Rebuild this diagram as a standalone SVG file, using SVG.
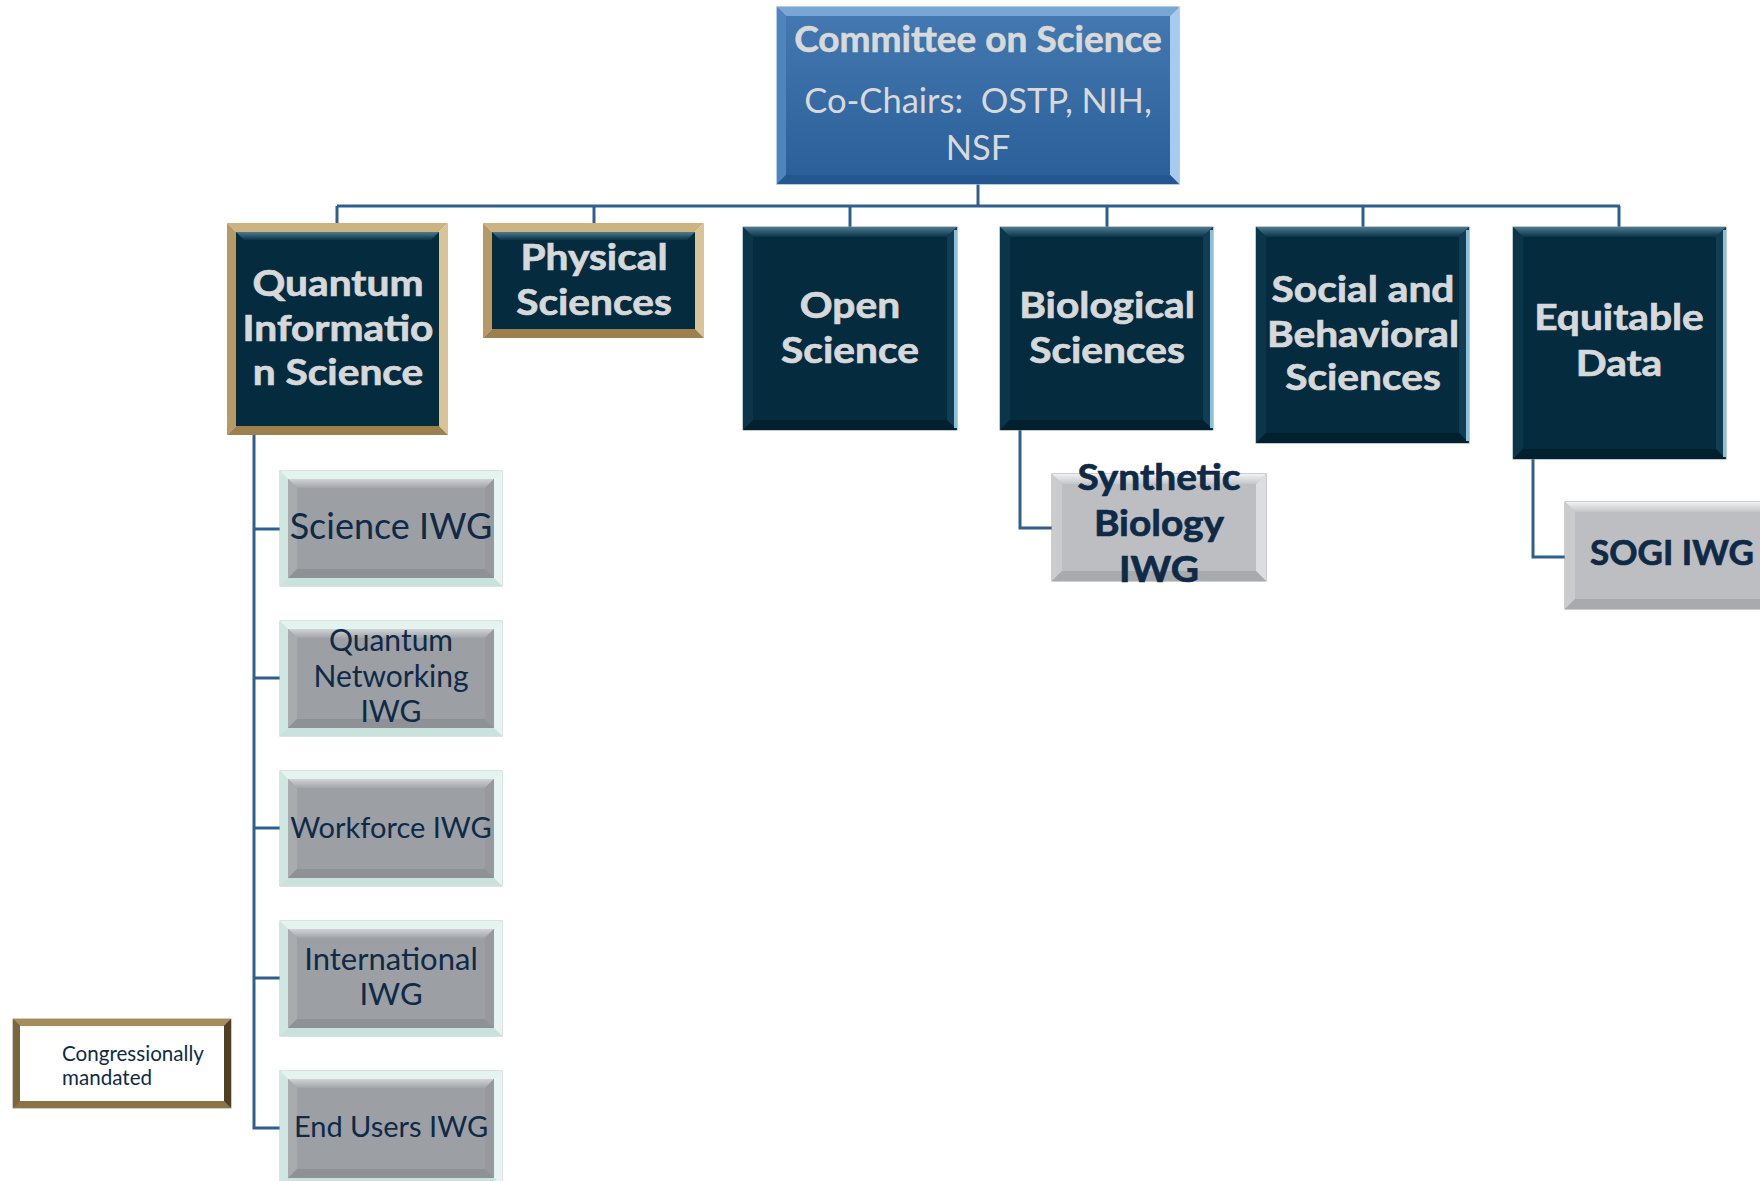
<svg xmlns="http://www.w3.org/2000/svg" xmlns:xlink="http://www.w3.org/1999/xlink" width="1760" height="1181" viewBox="0 0 1760 1181">
<defs>
<style>
.t-top{font-family:"Lato","Liberation Sans",sans-serif;fill:#d9d9d9;text-anchor:middle}
.t-l2{font-family:"Lato","Liberation Sans",sans-serif;font-weight:bold;font-size:36px;fill:#d7d8da;stroke:#d7d8da;stroke-width:0.7;text-anchor:middle}
.t-iwg{font-family:"Lato","Liberation Sans",sans-serif;fill:#0e2a47;text-anchor:middle}
.t-sub{font-family:"Lato","Liberation Sans",sans-serif;font-weight:bold;fill:#0e2a47;stroke:#0e2a47;stroke-width:0.7;text-anchor:middle}
.t-leg{font-family:"Lato","Liberation Sans",sans-serif;font-size:20.6px;fill:#0e2a47}
.conn{fill:none;stroke:#2f5f8e;stroke-width:3}
.dk{fill:#042b3e}
.dk-t{fill:url(#dkTop)}
.dk-l{fill:#0b3549}
.dk-r{fill:#123e53}
.dk-b{fill:#03202e}
.dk-e{fill:none;stroke:#8fc0db;stroke-width:3}
.gd-t{fill:#ccb382}
.gd-l{fill:#b69963}
.gd-r{fill:#d8c497}
.gd-b{fill:#9c804e}
</style>
<linearGradient id="topGrad" x1="0" y1="0" x2="0" y2="1">
<stop offset="0" stop-color="#4479b1"/>
<stop offset="1" stop-color="#2a5e98"/>
</linearGradient>
<linearGradient id="dkTop" x1="0" y1="0" x2="0" y2="1">
<stop offset="0" stop-color="#4d7a8e"/>
<stop offset="1" stop-color="#0a3448"/>
</linearGradient>
<linearGradient id="grTop" x1="0" y1="0" x2="0" y2="1">
<stop offset="0" stop-color="#d0d2d4"/>
<stop offset="1" stop-color="#a3a6a9"/>
</linearGradient>
<linearGradient id="lgTop" x1="0" y1="0" x2="0" y2="1">
<stop offset="0" stop-color="#f0f1f2"/>
<stop offset="1" stop-color="#c4c6c8"/>
</linearGradient>
<g id="iwgBox">
<rect x="0" y="0" width="222" height="115" fill="#d4ece5" stroke="#b7c8c3" stroke-width="1"/>
<polygon points="0,0 222,0 214,8 8,8" fill="#e3f3ee"/>
<polygon points="0,0 8,8 8,107 0,115" fill="#cfe7e0"/>
<polygon points="222,0 222,115 214,107 214,8" fill="#e6f5f1"/>
<polygon points="0,115 8,107 214,107 222,115" fill="#c9e2db"/>
<rect x="8" y="8" width="206" height="99" fill="#9c9fa3"/>
<polygon points="8,8 214,8 205,17 17,17" fill="url(#grTop)"/>
<polygon points="8,8 17,17 17,98 8,107" fill="#a9acaf"/>
<polygon points="214,8 214,107 205,98 205,17" fill="#96999d"/>
<polygon points="8,107 17,98 205,98 214,107" fill="#8e9195"/>
</g>
<g id="subBox">
<rect x="0" y="0" width="214" height="107" fill="#bcbec1" stroke="#9c9ea1" stroke-width="1"/>
<polygon points="0,0 214,0 204,10 10,10" fill="url(#lgTop)"/>
<polygon points="0,0 10,10 10,97 0,107" fill="#c9cbcd"/>
<polygon points="214,0 214,107 204,97 204,10" fill="#dcdde0"/>
<polygon points="0,107 10,97 204,97 214,107" fill="#a8aaad"/>
</g>
</defs>

<rect x="0" y="0" width="1760" height="1181" fill="#ffffff"/>

<g id="connectors">
<path class="conn" d="M978 184 V206"/>
<path class="conn" d="M337 206 H1620"/>
<path class="conn" d="M337 206 V223"/>
<path class="conn" d="M594 206 V223"/>
<path class="conn" d="M850 206 V227"/>
<path class="conn" d="M1107 206 V227"/>
<path class="conn" d="M1363 206 V227"/>
<path class="conn" d="M1619 206 V227"/>
<path class="conn" d="M254 435 V1128 H280"/>
<path class="conn" d="M254 529 H280"/>
<path class="conn" d="M254 678 H280"/>
<path class="conn" d="M254 828 H280"/>
<path class="conn" d="M254 978 H280"/>
<path class="conn" d="M1020 430 V528 H1052"/>
<path class="conn" d="M1533 459 V557 H1565"/>
</g>

<g id="committee">
<rect x="777" y="7" width="402" height="177" fill="url(#topGrad)" stroke="#9cbfe2" stroke-width="1.5"/>
<polygon points="777,7 1179,7 1170,16 786,16" fill="#7aa6d4"/>
<polygon points="777,7 786,16 786,175 777,184" fill="#4f84bd"/>
<polygon points="1179,7 1179,184 1170,175 1170,16" fill="#a6cbef"/>
<polygon points="777,184 786,175 1170,175 1179,184" fill="#25578e"/>
<text class="t-top" x="978" y="52" font-size="37" font-weight="bold" stroke="#d9d9d9" stroke-width="0.6">Committee on Science</text>
<text class="t-top" x="978" y="113" font-size="34.5">Co-Chairs:&#160; OSTP, NIH,</text>
<text class="t-top" x="978" y="160" font-size="34.5">NSF</text>
</g>

<g id="qis">
<polygon class="gd-t" points="227,223 448,223 439,232 236,232"/>
<polygon class="gd-l" points="227,223 236,232 236,426 227,435"/>
<polygon class="gd-r" points="448,223 448,435 439,426 439,232"/>
<polygon class="gd-b" points="227,435 236,426 439,426 448,435"/>
<rect class="dk" x="236" y="232" width="203" height="194"/>
<polygon class="dk-t" points="236,232 439,232 431,240 244,240"/>
<g transform="matrix(1.13 0 0 1 -43.94 0)">
<text class="t-l2" x="338" y="296">Quantum</text>
<text class="t-l2" x="338" y="341">Informatio</text>
<text class="t-l2" x="338" y="385">n Science</text>
</g>
</g>

<g id="physical">
<polygon class="gd-t" points="483,223 704,223 695,232 492,232"/>
<polygon class="gd-l" points="483,223 492,232 492,329 483,338"/>
<polygon class="gd-r" points="704,223 704,338 695,329 695,232"/>
<polygon class="gd-b" points="483,338 492,329 695,329 704,338"/>
<rect class="dk" x="492" y="232" width="203" height="97"/>
<polygon class="dk-t" points="492,232 695,232 687,240 500,240"/>
<g transform="matrix(1.13 0 0 1 -77.22 0)">
<text class="t-l2" x="594" y="270">Physical</text>
<text class="t-l2" x="594" y="315">Sciences</text>
</g>
</g>

<g id="open">
<rect class="dk" x="743" y="227" width="214" height="203" stroke="#7d97a4" stroke-width="1"/>
<polygon class="dk-t" points="743,227 957,227 947,237 753,237"/>
<polygon class="dk-l" points="743,227 753,237 753,420 743,430"/>
<polygon class="dk-r" points="957,227 957,430 947,420 947,237"/>
<polygon class="dk-b" points="743,430 753,420 947,420 957,430"/>
<path class="dk-e" d="M955.5 230 V428"/>
<g transform="matrix(1.13 0 0 1 -110.5 0)">
<text class="t-l2" x="850" y="318">Open</text>
<text class="t-l2" x="850" y="363">Science</text>
</g>
</g>

<g id="biological">
<rect class="dk" x="1000" y="227" width="213" height="203" stroke="#7d97a4" stroke-width="1"/>
<polygon class="dk-t" points="1000,227 1213,227 1203,237 1010,237"/>
<polygon class="dk-l" points="1000,227 1010,237 1010,420 1000,430"/>
<polygon class="dk-r" points="1213,227 1213,430 1203,420 1203,237"/>
<polygon class="dk-b" points="1000,430 1010,420 1203,420 1213,430"/>
<path class="dk-e" d="M1211.5 230 V428"/>
<g transform="matrix(1.13 0 0 1 -143.91 0)">
<text class="t-l2" x="1107" y="318">Biological</text>
<text class="t-l2" x="1107" y="363">Sciences</text>
</g>
</g>

<g id="social">
<rect class="dk" x="1256" y="227" width="213" height="216" stroke="#7d97a4" stroke-width="1"/>
<polygon class="dk-t" points="1256,227 1469,227 1459,237 1266,237"/>
<polygon class="dk-l" points="1256,227 1266,237 1266,433 1256,443"/>
<polygon class="dk-r" points="1469,227 1469,443 1459,433 1459,237"/>
<polygon class="dk-b" points="1256,443 1266,433 1459,433 1469,443"/>
<path class="dk-e" d="M1467.5 230 V441"/>
<g transform="matrix(1.13 0 0 1 -177.19 0)">
<text class="t-l2" x="1363" y="302">Social and</text>
<text class="t-l2" x="1363" y="347">Behavioral</text>
<text class="t-l2" x="1363" y="390">Sciences</text>
</g>
</g>

<g id="equitable">
<rect class="dk" x="1513" y="227" width="213" height="232" stroke="#7d97a4" stroke-width="1"/>
<polygon class="dk-t" points="1513,227 1726,227 1716,237 1523,237"/>
<polygon class="dk-l" points="1513,227 1523,237 1523,449 1513,459"/>
<polygon class="dk-r" points="1726,227 1726,459 1716,449 1716,237"/>
<polygon class="dk-b" points="1513,459 1523,449 1716,449 1726,459"/>
<path class="dk-e" d="M1724.5 230 V457"/>
<g transform="matrix(1.13 0 0 1 -210.47 0)">
<text class="t-l2" x="1619" y="330">Equitable</text>
<text class="t-l2" x="1619" y="376">Data</text>
</g>
</g>

<g id="synbio">
<use xlink:href="#subBox" href="#subBox" x="1052" y="474"/>
<g transform="matrix(1.05 0 0 1 -57.95 0)">
<text class="t-sub" x="1159" y="490" font-size="37">Synthetic</text>
<text class="t-sub" x="1159" y="536" font-size="37">Biology</text>
<text class="t-sub" x="1159" y="582" font-size="37">IWG</text>
</g>
</g>

<g id="sogi">
<use xlink:href="#subBox" href="#subBox" x="1565" y="502"/>
<text class="t-sub" x="1672" y="565" font-size="35">SOGI IWG</text>
</g>

<g id="science-iwg">
<use xlink:href="#iwgBox" href="#iwgBox" x="280" y="471"/>
<text class="t-iwg" x="391" y="539" font-size="36">Science IWG</text>
</g>

<g id="networking-iwg">
<use xlink:href="#iwgBox" href="#iwgBox" x="280" y="621"/>
<text class="t-iwg" x="391" y="651" font-size="30">Quantum</text>
<text class="t-iwg" x="391" y="687" font-size="30">Networking</text>
<text class="t-iwg" x="391" y="722" font-size="30">IWG</text>
</g>

<g id="workforce-iwg">
<use xlink:href="#iwgBox" href="#iwgBox" x="280" y="771"/>
<text class="t-iwg" x="391" y="838" font-size="29">Workforce IWG</text>
</g>

<g id="international-iwg">
<use xlink:href="#iwgBox" href="#iwgBox" x="280" y="921"/>
<text class="t-iwg" x="391" y="970" font-size="31">International</text>
<text class="t-iwg" x="391" y="1005" font-size="31">IWG</text>
</g>

<g id="endusers-iwg">
<use xlink:href="#iwgBox" href="#iwgBox" x="280" y="1071"/>
<text class="t-iwg" x="391" y="1137" font-size="29">End Users IWG</text>
</g>

<g id="legend">
<rect x="13" y="1019" width="218" height="89" fill="#6e5a35" stroke="#9a9a9a" stroke-width="1"/>
<polygon points="13,1019 231,1019 224,1026 20,1026" fill="#a58c59"/>
<polygon points="13,1019 20,1026 20,1101 13,1108" fill="#7b653b"/>
<polygon points="231,1019 231,1108 224,1101 224,1026" fill="#4f3f23"/>
<polygon points="13,1108 20,1101 224,1101 231,1108" fill="#8a7345"/>
<rect x="20" y="1026" width="204" height="75" fill="#ffffff"/>
<text class="t-leg" x="62" y="1061">Congressionally</text>
<text class="t-leg" x="62" y="1085">mandated</text>
</g>
</svg>
